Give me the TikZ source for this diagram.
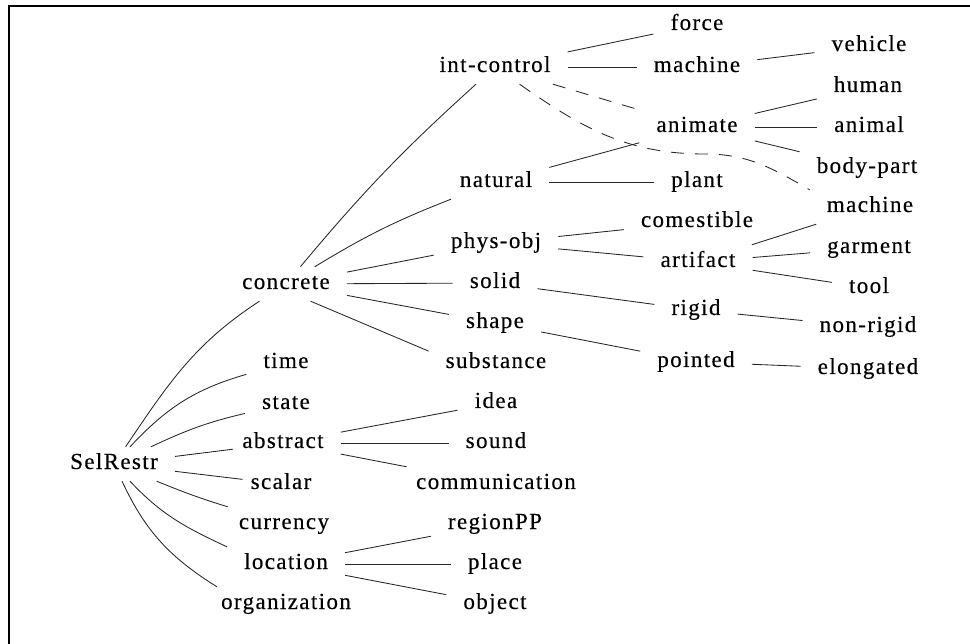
\documentclass[tikz,border=0pt]{standalone}
\usepackage{fontspec}
\setmainfont{Liberation Serif}[LetterSpace=6,FakeBold=0.35]
\begin{document}
\begin{tikzpicture}[x=1pt,y=1pt,
  term/.style={inner xsep=17pt, inner ysep=7pt, text height=15pt, text depth=5pt,
               font=\fontsize{23}{27}\selectfont},
  link/.style={draw=black!85, line width=0.85pt},
  weak/.style={link, dash pattern=on 13pt off 11pt}]
\useasboundingbox (0,0) rectangle (970,-644);

% open frame
\draw[line width=2.2pt] (9,-644) -- (9,-5.8) -- (970,-5.8);

% root
\node[term] (selrestr) at (114,-464) {SelRestr};

% second level
\node[term] (concrete)     at (286,-284) {concrete};
\node[term] (time)         at (286,-363) {time};
\node[term] (state)        at (286,-404) {state};
\node[term] (abstract)     at (283,-443) {abstract};
\node[term] (scalar)       at (281,-484) {scalar};
\node[term] (currency)     at (284,-524) {currency};
\node[term] (location)     at (286,-564) {location};
\node[term] (organization) at (286,-604) {organization};

% third level
\node[term] (intcontrol)    at (495,-67)  {int-control};
\node[term] (natural)       at (496,-182) {natural};
\node[term] (physobj)       at (496,-243) {phys-obj};
\node[term] (solid)         at (495,-283) {solid};
\node[term] (shape)         at (495,-323) {shape};
\node[term] (substance)     at (496,-363) {substance};
\node[term] (idea)          at (496,-403) {idea};
\node[term] (sound)         at (496,-443) {sound};
\node[term] (communication) at (496,-484) {communication};
\node[term] (regionpp)      at (495,-524) {regionPP};
\node[term] (place)         at (495,-564) {place};
\node[term] (object)        at (495,-604) {object};

% fourth level
\node[term] (force)      at (697,-25)  {force};
\node[term] (machine)    at (697,-67)  {machine};
\node[term] (animate)    at (697,-127) {animate};
\node[term] (plant)      at (697,-182) {plant};
\node[term] (comestible) at (697,-222) {comestible};
\node[term] (artifact)   at (698,-262) {artifact};
\node[term] (rigid)      at (696,-310) {rigid};
\node[term] (pointed)    at (696,-362) {pointed};

% fifth level
\node[term] (vehicle)   at (869,-46)  {vehicle};
\node[term] (human)     at (868,-87)  {human};
\node[term] (animal)    at (869,-127) {animal};
\node[term] (bodypart)  at (867,-168) {body-part};
\node[term] (machineb)  at (870,-207) {machine};
\node[term] (garment)   at (869,-248) {garment};
\node[term] (tool)      at (869,-288) {tool};
\node[term] (nonrigid)  at (868,-327) {non-rigid};
\node[term] (elongated) at (868,-369) {elongated};

\coordinate (dashmid) at (705,-154);

% root links
\draw[link] (selrestr) to[out=56,in=213] (concrete);
\draw[link] (selrestr) to[out=47,in=196] (time);
\draw[link] (selrestr) to[out=25,in=193] (state);
\draw[link, shorten >=-8pt] (selrestr) -- (abstract);
\draw[link, shorten >=-9pt] (selrestr) -- (scalar);
\draw[link] (selrestr) to[out=-22,in=163] (currency);
\draw[link] (selrestr) to[out=-47,in=155] (location.north west);
\draw[link] (selrestr) to[out=-65,in=148] ([xshift=13pt]organization.north west);

% concrete, abstract, location
\draw[link] (concrete) to[bend left=4] (intcontrol);
\draw[link] (concrete) to[bend left=5] (natural);
\draw[link] (concrete) -- (physobj);
\draw[link] (concrete) -- (solid);
\draw[link] (concrete) -- (shape);
\draw[link] (concrete.-35) -- (substance.170);
\draw[link] (abstract) -- (idea);
\draw[link] (abstract) -- (sound);
\draw[link] (abstract) -- (communication);
\draw[link] (location) -- (regionpp);
\draw[link] (location) -- (place);
\draw[link] (location) -- (object);

% third to fourth level
\draw[link] (intcontrol) -- (force);
\draw[link] (intcontrol) -- (machine);
\draw[weak] (intcontrol) -- (animate);
\draw[weak] (intcontrol) to[out=-35,in=180] (dashmid) to[out=0,in=150] (machineb.north west);
\draw[link] (natural) -- (animate);
\draw[link] (natural) -- (plant);
\draw[link] (physobj) -- (comestible);
\draw[link] (physobj) -- (artifact);
\draw[link] (solid) -- (rigid);
\draw[link] (shape) -- (pointed);

% fourth to fifth level
\draw[link] (machine) -- (vehicle);
\draw[link] (animate) -- (human);
\draw[link] (animate) -- (animal);
\draw[link] (animate) -- (bodypart);
\draw[link] (artifact) -- (machineb);
\draw[link] (artifact) -- (garment);
\draw[link] (artifact) -- (tool);
\draw[link] (rigid) -- (nonrigid);
\draw[link] (pointed) -- (elongated);
\end{tikzpicture}
\end{document}
